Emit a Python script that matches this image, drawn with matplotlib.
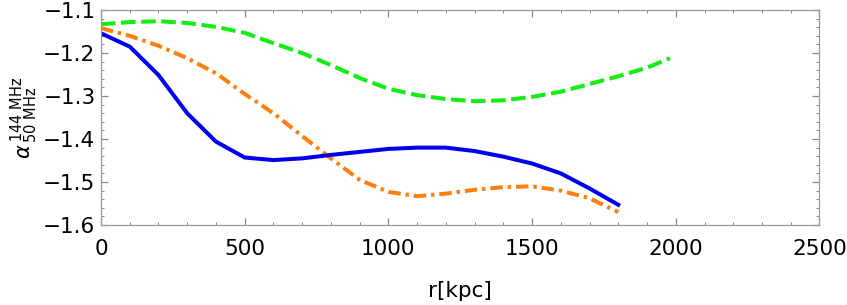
import numpy as np
from matplotlib import pyplot as plt

plt.rcParams['font.family'] = ['DejaVu Sans']
plt.rcParams['lines.scale_dashes'] = False
plt.rcParams['mathtext.fontset'] = 'dejavusans'

# radius [kpc]
r_blue = [0, 100, 200, 300, 400, 500, 600, 700, 800, 900, 1000,
          1100, 1200, 1300, 1400, 1500, 1600, 1700, 1800]
alpha_blue = [-1.154, -1.185, -1.251, -1.340, -1.406, -1.443, -1.449, -1.445,
              -1.437, -1.430, -1.423, -1.420, -1.420, -1.428, -1.441, -1.457,
              -1.480, -1.515, -1.553]

r_orange = r_blue
alpha_orange = [-1.142, -1.160, -1.183, -1.212, -1.247, -1.295, -1.340, -1.393,
                -1.445, -1.495, -1.523, -1.533, -1.527, -1.518, -1.512, -1.510,
                -1.520, -1.538, -1.570]

r_green = [0, 100, 200, 300, 400, 500, 600, 700, 800, 900, 1000, 1100, 1200,
           1300, 1400, 1500, 1600, 1700, 1800, 1900, 1980]
alpha_green = [-1.133, -1.128, -1.126, -1.130, -1.139, -1.153, -1.177, -1.200,
               -1.228, -1.258, -1.283, -1.298, -1.307, -1.312, -1.310, -1.302,
               -1.290, -1.272, -1.254, -1.234, -1.212]

fig = plt.figure(figsize=(8.47, 3.05), dpi=100)
ax = fig.add_axes([0.1192, 0.2623, 0.8483, 0.7047])

ax.plot(r_green, alpha_green, color='#11ee11', lw=2.9, dashes=(10.5, 4))
ax.plot(r_orange, alpha_orange, color='#ff8010', lw=2.9, dashes=(9, 3.5, 2.5, 3.5))
ax.plot(r_blue, alpha_blue, color='#0000ee', lw=2.9)

ax.set_xlim(0, 2500)
ax.set_ylim(-1.6, -1.1)
ax.set_xticks([0, 500, 1000, 1500, 2000, 2500])
ax.set_xticks(np.arange(0, 2501, 100), minor=True)
ax.set_yticks([-1.6, -1.5, -1.4, -1.3, -1.2, -1.1])
ax.set_yticks(np.arange(-1.6, -1.099, 0.02), minor=True)

for s in ax.spines.values():
    s.set_color('#999999')
    s.set_linewidth(0.9)
ax.tick_params(which='both', direction='in', top=True, right=True, color='#888888',
               labelsize=15.5)
ax.tick_params(which='major', length=5, width=0.9)
ax.tick_params(which='minor', length=2.5, width=0.7)
ax.tick_params(axis='x', pad=10)
ax.tick_params(axis='y', pad=4)

ax.set_xlabel('r[kpc]', fontsize=15.5, labelpad=16)
ax.set_ylabel(r'$\alpha^{\,144\ \mathrm{MHz}}_{\,50\ \mathrm{MHz}}$', fontsize=15, labelpad=2)

fig.savefig('out.png', dpi=100)
